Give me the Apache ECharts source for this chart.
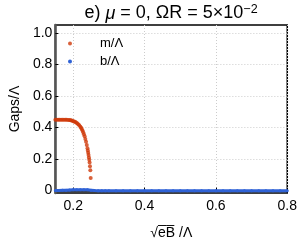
<!DOCTYPE html>
<html><head><meta charset="utf-8">
<script src="https://cdn.jsdelivr.net/npm/echarts@6/dist/echarts.min.js"></script>
<style>html,body{margin:0;padding:0;background:#fff}#c{width:300px;height:245px}</style>
</head><body><div id="c"></div>
<script>
const xTicks = [0.2, 0.4, 0.6, 0.8];
const yTicks = [0, 0.2, 0.4, 0.6, 0.8, 1.0];
const mX = [0.150,0.154,0.158,0.162,0.166,0.170,0.174,0.178,0.182,0.186,0.190,0.193,0.196,0.199,0.202,0.205,0.208,0.211,0.214,0.217,0.220,0.222,0.224,0.226,0.228,0.230,0.232,0.234,0.236,0.238,0.240,0.241,0.242,0.243,0.244,0.245,0.246,0.247,0.248,0.249];
const mY = [0.450,0.450,0.450,0.450,0.450,0.450,0.450,0.449,0.449,0.448,0.447,0.446,0.444,0.442,0.439,0.436,0.432,0.427,0.421,0.414,0.405,0.398,0.390,0.381,0.370,0.358,0.344,0.328,0.310,0.290,0.268,0.255,0.240,0.226,0.210,0.195,0.178,0.155,0.130,0.080];
const bX = [0.15,0.16,0.17,0.18,0.19,0.20,0.21,0.22,0.23,0.24,0.25,0.26,0.27,0.28,0.29,0.30,0.32,0.34,0.36,0.38,0.40,0.42,0.44,0.46,0.48,0.50,0.52,0.54,0.56,0.58,0.60,0.62,0.64,0.66,0.68,0.70,0.72,0.74,0.76,0.78,0.80];
const bY = [0.001,0.001,0.002,0.003,0.004,0.005,0.005,0.005,0.005,0.005,0.003,0.001,0.000,0.000,0.000,0.000,0.000,0.000,0.000,0.000,0.000,0.000,0.000,0.000,0.000,0.000,0.000,0.000,0.000,0.000,0.000,0.000,0.000,0.000,0.000,0.000,0.000,0.000,0.000,0.000,0.000];
const seriesNames = ['m/Λ', 'b/Λ'];

const chart = echarts.init(document.getElementById('c'));
const F = 'Liberation Sans, Arial, sans-serif';
chart.setOption({
  animation: false,
  title: {
    text: '{n|e) }{i|μ}{n| = 0, ΩR = 5×10}{s|−2}',
    left: 166, textAlign: 'center', top: -2,
    textStyle: {
      fontWeight: 'normal',
      rich: {
        n: {fontFamily: F, fontSize: 18, fontWeight: 'normal', color: '#000'},
        i: {fontFamily: F, fontSize: 18, fontWeight: 'normal', fontStyle: 'italic', color: '#000'},
        s: {fontFamily: F, fontSize: 12.5, fontWeight: 'normal', color: '#000', verticalAlign: 'top', padding: [0,0,8,0]}
      }
    }
  },
  legend: {
    left: 63, top: 32, orient: 'vertical', itemGap: 5,
    itemWidth: 14, itemHeight: 4,
    textStyle: {fontFamily: F, fontSize: 13, color: '#000', padding: [0,0,0,18]},
    data: [{name: seriesNames[0], icon: 'circle'}, {name: seriesNames[1], icon: 'circle'}]
  },
  grid: {left: 42, right: 10, top: 25, bottom: 50, show: true, borderColor: '#000', borderWidth: 1.5},
  xAxis: {
    type: 'value', min: 0.15, max: 0.8,
    name: '√e\u0305B\u0305 /Λ', nameLocation: 'middle', nameGap: 33,
    nameTextStyle: {fontFamily: F, fontSize: 14, color: '#000'},
    axisLine: {lineStyle: {color: '#000', width: 1.5}},
    axisTick: {inside: true, length: 3, customValues: xTicks, lineStyle: {color: '#000'}},
    axisLabel: {customValues: xTicks, fontFamily: F, fontSize: 14, color: '#000', margin: 6,
      formatter: v => v.toFixed(1)},
    splitLine: {show: true, lineStyle: {color: '#ccc', type: [1, 2], width: 1}}
  },
  yAxis: {
    type: 'value', min: -0.015, max: 1.05,
    name: 'Gaps/Λ', nameLocation: 'middle', nameGap: 27,
    nameTextStyle: {fontFamily: F, fontSize: 14, color: '#000'},
    axisLine: {show: true, lineStyle: {color: '#555', width: 2.5}},
    axisTick: {show: true, inside: true, length: 3, customValues: yTicks, lineStyle: {color: '#000'}},
    axisLabel: {customValues: yTicks, fontFamily: F, fontSize: 14, color: '#000', margin: 3,
      formatter: v => (Math.abs(v) < 1e-9 ? '0' : v.toFixed(1))},
    splitLine: {show: true, lineStyle: {color: '#ccc', type: [1, 2], width: 1}}
  },
  series: [
    {
      name: seriesNames[0], type: 'scatter', symbolSize: 4,
      itemStyle: {color: '#cf3a0a'},
      data: mX.map((x, i) => [x, mY[i]]), z: 3
    },
    {
      name: seriesNames[1], type: 'line', symbol: 'circle', symbolSize: 3, showSymbol: true,
      itemStyle: {color: '#2f62d6'}, lineStyle: {color: '#2f62d6', width: 3},
      data: bX.map((x, i) => [x, bY[i]]), z: 4
    }
  ]
});
</script></body></html>
